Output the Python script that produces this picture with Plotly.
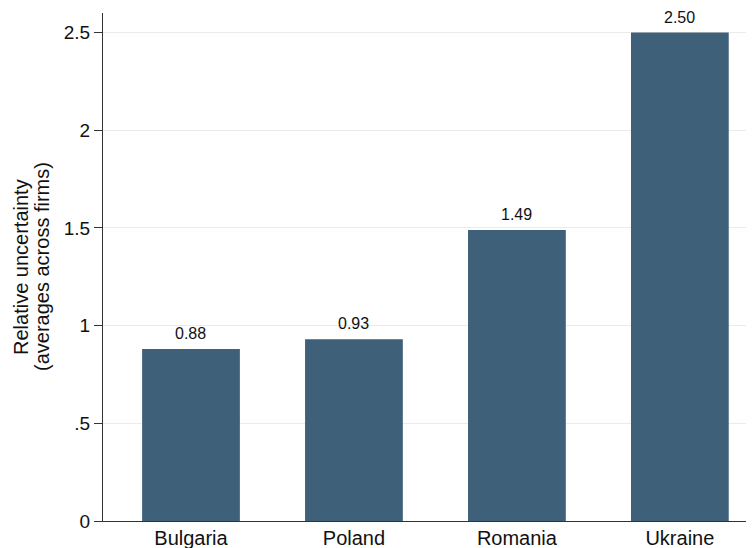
import plotly.graph_objects as go

countries = ['Bulgaria', 'Poland', 'Romania', 'Ukraine']
uncertainty = [0.88, 0.93, 1.49, 2.50]
y_ticks = [0, 0.5, 1, 1.5, 2, 2.5]
y_tick_labels = ['0', '.5', '1', '1.5', '2', '2.5']
y_title_lines = ['Relative uncertainty', '(averages across firms)']

bar_color = '#3e6079'
font = 'Liberation Sans, Arial, sans-serif'

fig = go.Figure()
fig.add_trace(go.Bar(
    x=countries,
    y=uncertainty,
    width=0.6,
    marker=dict(color=bar_color, line=dict(width=0)),
    hoverinfo='x+y',
))

# value labels above the bars
for c, v in zip(countries, uncertainty):
    fig.add_annotation(
        x=c, y=v, text=f'{v:.2f}',
        showarrow=False, yanchor='bottom', yshift=5,
        font=dict(size=16, color='#111111', family=font),
    )

# y title as two rotated lines (tighter line spacing than plotly's <br>)
for i, line in enumerate(y_title_lines):
    fig.add_annotation(
        xref='paper', yref='paper', x=0, y=0.5,
        xanchor='center', yanchor='middle',
        xshift=-82 + 21 * i, textangle=-90,
        text=line, showarrow=False,
        font=dict(size=20, color='#111111', family=font),
    )

# page body has an 8px margin, so the figure is a bit smaller than the window
fig.update_layout(
    width=746,
    height=540,
    margin=dict(l=95, r=0, t=5, b=27),
    paper_bgcolor='white',
    plot_bgcolor='white',
    showlegend=False,
    font=dict(family=font, color='#111111'),
)
fig.update_xaxes(
    range=[-0.54, 3.455],
    showline=True, linecolor='#333333', linewidth=1,
    ticks='', showgrid=False,
    tickfont=dict(size=20, color='#111111'),
    ticklabelstandoff=-1,
)
fig.update_yaxes(
    range=[0, 2.6],
    tickvals=y_ticks, ticktext=y_tick_labels,
    showline=True, linecolor='#333333', linewidth=1,
    ticks='outside', ticklen=8, tickcolor='#333333',
    showgrid=True, gridcolor='#ebebeb', gridwidth=1,
    zeroline=False,
    tickfont=dict(size=19, color='#111111'),
)

fig.write_html('out.html')
